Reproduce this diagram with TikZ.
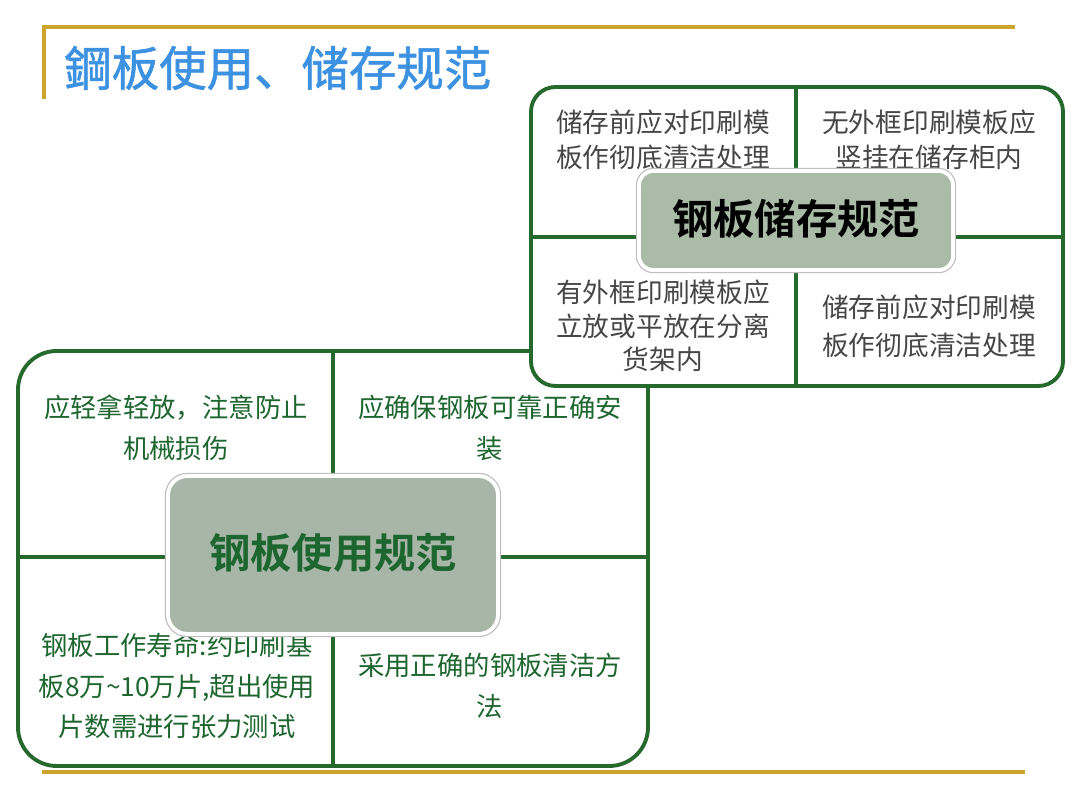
\documentclass[tikz,border=0pt]{standalone}
\usepackage{fontspec}
\newfontfamily\cjk[BoldFont={Noto Sans CJK SC Bold}]{Noto Sans CJK SC}
\newfontfamily\cjktitle[FakeBold=1.2]{Noto Sans CJK SC}
\definecolor{gold}{RGB}{205,165,45}
\definecolor{titleblue}{RGB}{60,145,225}
\definecolor{boxgreen}{RGB}{38,105,45}
\definecolor{textgreen}{RGB}{30,102,48}
\definecolor{centerA}{RGB}{170,188,168}
\definecolor{centerB}{RGB}{168,182,168}
\definecolor{graytext}{RGB}{70,70,70}
\tikzset{
  outerbox/.style={draw=boxgreen, line width=2.2pt, fill=white},
  divider/.style={draw=boxgreen, line width=2pt},
  goldline/.style={draw=gold, line width=1.8pt},
  storetext/.style={font=\cjk\fontsize{15.2}{20}\selectfont, text=graytext, align=center, inner sep=0pt},
  usetext/.style={font=\cjk\fontsize{15}{23.2}\selectfont, text=textgreen, align=center, inner sep=0pt},
  centerbox/.style={draw=white, line width=2.2pt, inner sep=0pt,
     preaction={draw=black!25, line width=3.6pt}},
}
\begin{document}
\begin{tikzpicture}[x=0.02cm, y=-0.02cm]
\useasboundingbox (0,0) rectangle (1080,810);
% decorative lines
\coordinate (tl) at (44,27);
\coordinate (tr) at (1015,27);
\coordinate (tv) at (44,99);
\coordinate (bl) at (42,772);
\coordinate (br) at (1025,772);
\draw[goldline] (tv) -- (tl) -- (tr);
\draw[goldline] (bl) -- (br);
\node[anchor=west, inner sep=0pt, text=titleblue, font=\cjktitle\fontsize{27}{30}\selectfont] (title) at (64,68) {鋼板使用、储存规范};

% ===== usage box =====
\draw[outerbox, rounded corners=22pt] (18,351) rectangle (648,766);
\coordinate (uvt) at (333,351); \coordinate (uvb) at (333,766);
\coordinate (uhl) at (18,557); \coordinate (uhr) at (648,557);
\draw[divider] (uvt) -- (uvb);
\draw[divider] (uhl) -- (uhr);
\node[usetext] (u1) at (176,428) {应轻拿轻放，注意防止\\机械损伤};
\node[usetext] (u2) at (490,428) {应确保钢板可靠正确安\\装};
\node[usetext] (u3) at (177,686) {钢板工作寿命:约印刷基\\板8万\textasciitilde 10万片,超出使用\\片数需进行张力测试};
\node[usetext] (u4) at (490,686) {采用正确的钢板清洁方\\法};
\draw[centerbox, rounded corners=11pt, fill=centerB] (168,476) rectangle (498,634);
\node[inner sep=0pt, text=textgreen, font=\cjk\bfseries\fontsize{23.5}{26}\selectfont] (ucl) at (333,553) {钢板使用规范};

% ===== storage box =====
\draw[outerbox, rounded corners=14pt] (531,87) rectangle (1063,386);
\coordinate (svt) at (796,87); \coordinate (svb) at (796,386);
\coordinate (shl) at (531,237); \coordinate (shr) at (1063,237);
\draw[divider] (svt) -- (svb);
\draw[divider] (shl) -- (shr);
\node[storetext] (s1) at (663,140) {储存前应对印刷模\\板作彻底清洁处理};
\node[storetext] (s2) at (929,140) {无外框印刷模板应\\竖挂在储存柜内};
\node[storetext, font=\cjk\fontsize{15.2}{19}\selectfont] (s3) at (663,326) {有外框印刷模板应\\立放或平放在分离\\货架内};
\node[storetext, font=\cjk\fontsize{15.2}{21.5}\selectfont] (s4) at (929,326) {储存前应对印刷模\\板作彻底清洁处理};
\draw[centerbox, rounded corners=8pt, fill=centerA] (639,171) rectangle (953,270);
\node[inner sep=0pt, text=black, font=\cjk\bfseries\fontsize{23.5}{26}\selectfont] (scl) at (796,219) {钢板储存规范};
\end{tikzpicture}
\end{document}
